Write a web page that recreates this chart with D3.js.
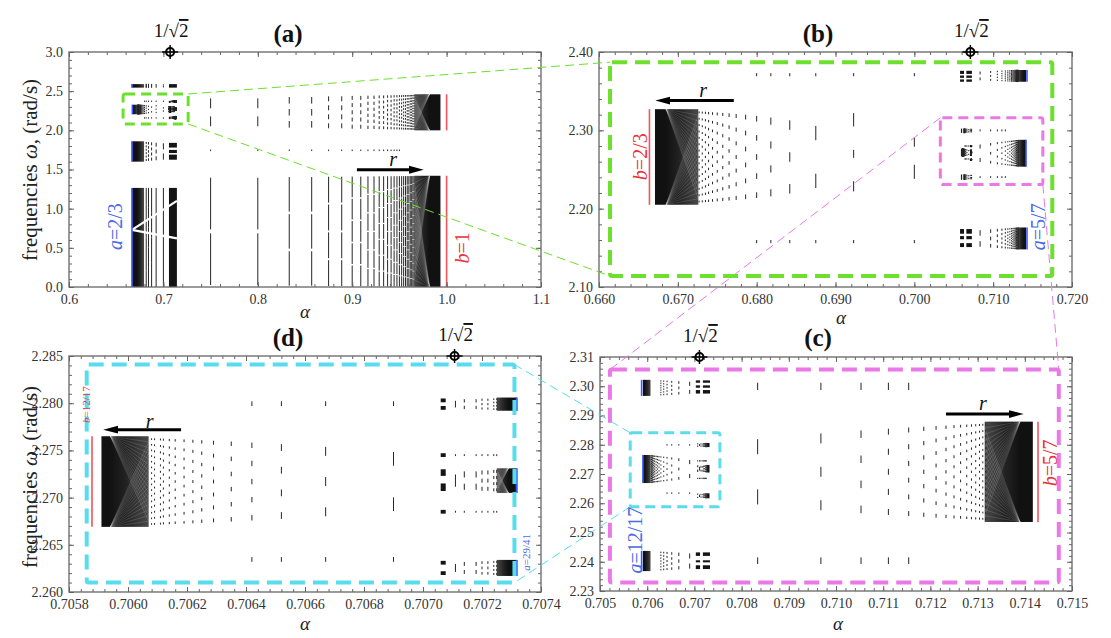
<!DOCTYPE html>
<html>
<head>
<meta charset="utf-8">
<script src="https://d3js.org/d3.v7.min.js"></script>
<style>
  body { margin: 0; background: #fff; }
  svg text { font-family: "Liberation Serif", "DejaVu Serif", serif; }
</style>
</head>
<body>
<div id="vis"></div>
<script>
// ---------------- tick labels ----------------
const A_X_TICKS = ["0.6", "0.7", "0.8", "0.9", "1.0", "1.1"];
const A_Y_TICKS = ["0.0", "0.5", "1.0", "1.5", "2.0", "2.5", "3.0"];
const B_X_TICKS = ["0.660", "0.670", "0.680", "0.690", "0.700", "0.710", "0.720"];
const B_Y_TICKS = ["2.10", "2.20", "2.30", "2.40"];
const C_X_TICKS = ["0.705", "0.706", "0.707", "0.708", "0.709", "0.710", "0.711", "0.712", "0.713", "0.714", "0.715"];
const C_Y_TICKS = ["2.23", "2.24", "2.25", "2.26", "2.27", "2.28", "2.29", "2.30", "2.31"];
const D_X_TICKS = ["0.7058", "0.7060", "0.7062", "0.7064", "0.7066", "0.7068", "0.7070", "0.7072", "0.7074"];
const D_Y_TICKS = ["2.260", "2.265", "2.270", "2.275", "2.280", "2.285"];

// ---------------- panel (a) spectrum ----------------
const A_RIGHT_COLS = [0.75, 0.8, 0.8333, 0.8571, 0.875, 0.8889, 0.9, 0.9091, 0.9167, 0.9231, 0.9286, 0.9333, 0.9375,
  0.9412, 0.9444, 0.9474, 0.95, 0.9524, 0.9545, 0.9565, 0.9583, 0.96, 0.9615, 0.963, 0.9643, 0.9655];
const A_RIGHT_SEGS = [2, 2, 3, 3, 4, 4, 5, 5, 6, 6, 7, 7, 8, 8, 9, 9, 10, 10, 11, 11, 12, 12, 13, 13, 14, 14];
const A_RIGHT_BANDS = [[0, 1.42], [2.0, 2.46]];
const A_RIGHT_FILL = [0.93, 0.55];
const A_RIGHT_DOT = [1.735, 1.755];
const A_RIGHT_DENSE = [0.9658, 0.982, 0.9935];
const A_LIMIT_B = 1.0;
const A_LEFT_COLS = [0.7000, 0.6923, 0.6875, 0.6842, 0.6818];
const A_LEFT_SEGS = [2, 3, 4, 5, 6];
const A_LEFT_BANDS = [[0, 1.265], [1.60, 1.86], [2.545, 2.59]];
const A_LEFT_FILL = [1.0, 0.6, 0.8];
const A_LEFT_DENSE = [0.6795, 0.672, 0.6669];
const A_LIMIT_A = 0.6667;
const A_CHUNK_SPAN = [0.7059, 0.7143];
const A_CHUNK_ROWS = [[0, 1.265], [1.625, 1.69], [1.71, 1.75], [1.78, 1.84], [2.545, 2.59]];
const A_GAPS = [[0.6667, 0.73, 0.7143, 1.10], [0.6667, 0.73, 0.7143, 0.62]];

// ---------------- panel (b) spectrum ----------------
const B_LEFT_COLS = [0.6875, 0.6842, 0.6818, 0.6800, 0.6786, 0.6774, 0.6765, 0.6757, 0.6750, 0.6744, 0.6739, 0.6735, 0.6731, 0.6727];
const B_LEFT_SEGS = [2, 3, 4, 5, 6, 7, 8, 9, 10, 11, 12, 13, 14, 15];
const B_LEFT_BAND = [2.205, 2.327];
const B_LEFT_DENSE = [0.6726, 0.6685, 0.6671];
const B_LIMIT_B = 0.6664;
const B_DOTS = [[2.369, 2.373], [2.156, 2.160]];
const B_DOT_COLS = [0.7000, 0.6923, 0.6875, 0.6842, 0.6818, 0.6800];
const B_MID_COLS = [0.6923, 0.7000];
const B_MID_SEGMENTS = [[[2.305, 2.322], [2.265, 2.275], [2.222, 2.235]], [[2.279, 2.291], [2.238, 2.256]]];
const B_SIDE_BANDS = [[2.362, 2.377], [2.148, 2.176]];
const B_SIDE_CHUNK_SPANS = [[0.7058, 0.7063], [0.7066, 0.7073]];
const B_SIDE_CHUNK_ROWS = [[2.372, 2.376], [2.367, 2.370], [2.362, 2.365], [2.168, 2.174], [2.161, 2.165], [2.151, 2.156]];
const B_LIMIT_A = 0.71429;

// ---------------- panel (c) spectrum ----------------
const C_COLS = [0.70834, 0.70968, 0.71053, 0.71111, 0.71154, 0.71186, 0.71212, 0.71233, 0.71250, 0.71264, 0.71277,
  0.71287, 0.71296, 0.71304, 0.71311, 0.71317];
const C_SEGS = [2, 3, 4, 5, 6, 7, 8, 9, 10, 11, 12, 13, 14, 15, 16, 17];
const C_BAND = [2.2536, 2.2879];
const C_DENSE = [0.71315, 0.7139, 0.71417];
const C_DOTS = [[2.2987, 2.3012], [2.2392, 2.2415]];
const C_DOT_COLS = [0.70834, 0.70968, 0.71053, 0.71111, 0.71154];
const C_LIMIT_B = 0.71428;
const C_SIDE_BANDS = [[2.2967, 2.3022], [2.2368, 2.2437]];
const C_SIDE_CHUNK_SPANS = [[0.70703, 0.70712], [0.70718, 0.70733]];
const C_SIDE_CHUNK_ROWS = [[2.3012, 2.3020], [2.2995, 2.3003], [2.2975, 2.2987], [2.2420, 2.2432], [2.2398, 2.2405], [2.2375, 2.2388]];
const C_LIMIT_A = 0.705882;

// ---------------- panel (d) spectrum ----------------
const D_COLS = [0.70690, 0.70667, 0.70652, 0.70642, 0.70635, 0.70629, 0.70625, 0.70622, 0.70619, 0.70616, 0.70614,
  0.70612, 0.70611, 0.70609, 0.70608];
const D_SEGS = [2, 3, 4, 5, 6, 7, 8, 9, 10, 11, 12, 13, 14, 15, 16];
const D_BAND = [2.2669, 2.2765];
const D_DENSE = [0.70607, 0.70594, 0.70591];
const D_DOTS = [[2.2797, 2.2802], [2.2632, 2.2637]];
const D_DOT_COLS = [0.70690, 0.70667, 0.70652, 0.70642];
const D_LIMIT_B = 0.705878;
const D_R_COLS = [0.70711, 0.70714, 0.70718, 0.70720, 0.70722, 0.70724, 0.70725];
const D_R_SEGS = [1, 2, 2, 3, 3, 4, 4];
const D_R_BANDS = [[2.2792, 2.2806], [2.2705, 2.2731], [2.2617, 2.2634]];
const D_R_DENSE = [0.70725, 0.70729, 0.70732];
const D_R_DOT_ROWS = [[2.2744, 2.2746], [2.2684, 2.2686]];
const D_R_CHUNK_SPAN = [0.70706, 0.707077];
const D_R_CHUNK_ROWS = [[2.2801, 2.2805], [2.2793, 2.2797], [2.2743, 2.2747], [2.2723, 2.2730], [2.2707, 2.2715],
  [2.2683, 2.2687], [2.2629, 2.2633], [2.2618, 2.2622]];
const D_LIMIT_A = 0.707317;

// zoom boxes [alpha0, alpha1, w0, w1]
const GREEN_A = [0.6573, 0.7262, 2.081, 2.464];
const GREEN_B = [0.6614, 0.7175, 2.114, 2.387];
const PINK_B = [0.7033, 0.7163, 2.231, 2.316];
const PINK_C = [0.70521, 0.71472, 2.2329, 2.3057];
const CYAN_C = [0.70564, 0.70754, 2.2588, 2.2841];
const CYAN_D = [0.70586, 0.70731, 2.2610, 2.2841];

const INV_SQRT2 = 0.707107;

// ---------------- layout ----------------
const RED = "#f0555a", BLUE = "#3a56ff", RED_T = "#e8333a", BLUE_T = "#4a6ae6";
const GREEN = "#6ce02c", PINK = "#ea78e6", CYAN = "#58dcee";

const PANELS = {
  a: { left: 69, right: 541, top: 52, bottom: 287, xd: [0.6, 1.1], yd: [0, 3.0], xm: 0.02, ym: 0.1 },
  b: { left: 599, right: 1072, top: 52, bottom: 287, xd: [0.66, 0.72], yd: [2.1, 2.4], xm: 0.002, ym: 0.02 },
  d: { left: 69, right: 541, top: 356, bottom: 592, xd: [0.7058, 0.7074], yd: [2.26, 2.285], xm: 0.00004, ym: 0.001 },
  c: { left: 600, right: 1072, top: 357, bottom: 591, xd: [0.705, 0.715], yd: [2.23, 2.31], xm: 0.0002, ym: 0.002 }
};

const svg = d3.select("#vis").append("svg").attr("width", 1111).attr("height", 638);
const defs = svg.append("defs");
defs.append("marker").attr("id", "head").attr("markerUnits", "userSpaceOnUse")
  .attr("markerWidth", 16).attr("markerHeight", 10).attr("refX", 2).attr("refY", 5).attr("orient", "auto")
  .append("path").attr("d", "M0,1 L15,5 L0,9 Z").attr("fill", "#000");

function setup(key) {
  const c = PANELS[key];
  const x = d3.scaleLinear().domain(c.xd).range([c.left, c.right]);
  const y = d3.scaleLinear().domain(c.yd).range([c.bottom, c.top]);
  defs.append("clipPath").attr("id", "clip-" + key).append("rect")
    .attr("x", c.left).attr("y", c.top).attr("width", c.right - c.left).attr("height", c.bottom - c.top);
  const g = svg.append("g").attr("clip-path", "url(#clip-" + key + ")");
  return { x, y, g, c, key };
}

// ---------------- drawing helpers ----------------
function vsegs(p, list, color, w) {
  const px = list.map(([a, y0, y1]) => {
    let top = p.y(y1), bot = p.y(y0);
    if (bot - top < 1.3) { const m = (top + bot) / 2; top = m - 0.65; bot = m + 0.65; }
    return [p.x(a), top, bot];
  });
  p.g.append("g").selectAll("line").data(px).join("line")
    .attr("x1", d => d[0]).attr("x2", d => d[0]).attr("y1", d => d[1]).attr("y2", d => d[2])
    .attr("stroke", color || "#262626").attr("stroke-width", w || 1);
}

function fan(p, cols, segs, band, fill) {
  const list = [];
  const h = band[1] - band[0];
  cols.forEach((a, i) => {
    const n = segs[i] || 1;
    for (let j = 0; j < n; j++) {
      const c = band[0] + (j + 0.5) * h / n, half = h * fill / n / 2;
      list.push([a, c - half, c + half]);
    }
  });
  vsegs(p, list);
}

function dotRows(p, cols, rows) {
  const list = [];
  cols.forEach(a => rows.forEach(r => list.push([a, r[0], r[1]])));
  vsegs(p, list);
}

let gradId = 0;
function dense(p, spec, band) {
  const [far, solid, lim] = spec;
  const xf = p.x(far), xs = p.x(solid), xl = p.x(lim);
  const id = "grad" + (gradId++);
  const gr = defs.append("linearGradient").attr("id", id).attr("gradientUnits", "userSpaceOnUse")
    .attr("x1", xf).attr("x2", xl).attr("y1", 0).attr("y2", 0);
  const sf = Math.min(1, Math.abs(xs - xf) / Math.max(Math.abs(xl - xf), 0.01));
  gr.append("stop").attr("offset", 0).attr("stop-color", "#4a4a4a");
  gr.append("stop").attr("offset", sf * 0.6).attr("stop-color", "#222");
  gr.append("stop").attr("offset", sf).attr("stop-color", "#111");
  gr.append("stop").attr("offset", 1).attr("stop-color", "#111");
  const y0 = p.y(band[1]), y1 = p.y(band[0]);
  p.g.append("rect").attr("x", Math.min(xf, xl)).attr("y", y0)
    .attr("width", Math.max(Math.abs(xl - xf), 1)).attr("height", Math.max(y1 - y0, 1))
    .attr("fill", "url(#" + id + ")");
  if (Math.abs(xs - xf) > 10 && y1 - y0 > 20) {
    const k = 16, lines = [];
    for (let i = 1; i < k; i++) {
      const t = i / k;
      lines.push([xs, y0, xf, y0 + t * (y1 - y0)]);
      lines.push([xs, y1, xf, y1 - t * (y1 - y0)]);
    }
    p.g.append("g").selectAll("line").data(lines).join("line")
      .attr("x1", d => d[0]).attr("y1", d => d[1]).attr("x2", d => d[2]).attr("y2", d => d[3])
      .attr("stroke", "#fff").attr("stroke-width", 0.5).attr("opacity", 0.28);
  }
}

function chunks(p, spans, rows) {
  const rects = [];
  spans.forEach(s => rows.forEach(r => rects.push([s[0], s[1], r[0], r[1]])));
  p.g.append("g").selectAll("rect").data(rects).join("rect")
    .attr("x", d => p.x(d[0])).attr("width", d => Math.max(p.x(d[1]) - p.x(d[0]), 1))
    .attr("y", d => p.y(d[3])).attr("height", d => Math.max(p.y(d[2]) - p.y(d[3]), 1))
    .attr("fill", "#141414");
}

function limit(p, a, band, color) {
  vsegs(p, [[a, band[0], band[1]]], color, 1.6);
}

// ---------------- nested spectra ----------------
function drawD(p, depth) {
  dense(p, D_DENSE, D_BAND);
  fan(p, D_COLS, D_SEGS, D_BAND, 0.3);
  dotRows(p, D_DOT_COLS, D_DOTS);
  D_R_BANDS.forEach(b => { dense(p, D_R_DENSE, b); fan(p, D_R_COLS, D_R_SEGS, b, 0.5); });
  dotRows(p, D_R_COLS, D_R_DOT_ROWS);
  chunks(p, [D_R_CHUNK_SPAN], D_R_CHUNK_ROWS);
  if (depth === 0) {
    limit(p, D_LIMIT_B, D_BAND, RED);
    D_R_BANDS.forEach(b => limit(p, D_LIMIT_A, b, BLUE));
  } else if (depth === 1) {
    limit(p, D_DENSE[2], D_BAND, BLUE);
  }
}

function drawC(p, depth) {
  dense(p, C_DENSE, C_BAND);
  fan(p, C_COLS, C_SEGS, C_BAND, 0.3);
  dotRows(p, C_DOT_COLS, C_DOTS);
  drawD(p, depth + 1);
  C_SIDE_BANDS.forEach(b => {
    dense(p, D_DENSE, b);
    fan(p, D_COLS.slice(0, 6), D_SEGS, b, 0.5);
    if (depth === 0) limit(p, C_LIMIT_A, b, BLUE);
  });
  chunks(p, C_SIDE_CHUNK_SPANS, C_SIDE_CHUNK_ROWS);
  if (depth === 0) limit(p, C_LIMIT_B, C_BAND, RED);
  else if (depth === 1) limit(p, C_DENSE[2], C_BAND, BLUE);
}

function drawB(p, depth) {
  dense(p, B_LEFT_DENSE, B_LEFT_BAND);
  fan(p, B_LEFT_COLS, B_LEFT_SEGS, B_LEFT_BAND, 0.3);
  const mid = [];
  B_MID_COLS.forEach((a, i) => B_MID_SEGMENTS[i].forEach(s => mid.push([a, s[0], s[1]])));
  vsegs(p, mid);
  dotRows(p, B_DOT_COLS, B_DOTS);
  drawC(p, depth + 1);
  B_SIDE_BANDS.forEach(b => {
    dense(p, C_DENSE, b);
    fan(p, C_COLS, C_SEGS, b, 0.5);
    if (depth === 0) limit(p, B_LIMIT_A, b, BLUE);
  });
  chunks(p, B_SIDE_CHUNK_SPANS, B_SIDE_CHUNK_ROWS);
  if (depth === 0) limit(p, B_LIMIT_B, B_LEFT_BAND, RED);
  else if (depth === 1) limit(p, B_LEFT_DENSE[2], B_LEFT_BAND, BLUE);
}

function drawA(p) {
  A_RIGHT_BANDS.forEach((b, k) => {
    dense(p, A_RIGHT_DENSE, b);
    fan(p, A_RIGHT_COLS, A_RIGHT_SEGS, b, A_RIGHT_FILL[k]);
    limit(p, A_LIMIT_B, b, RED);
  });
  dotRows(p, A_RIGHT_COLS.slice(0, 17), [A_RIGHT_DOT]);
  A_LEFT_BANDS.forEach((b, k) => {
    dense(p, A_LEFT_DENSE, b);
    fan(p, A_LEFT_COLS, A_LEFT_SEGS, b, A_LEFT_FILL[k]);
  });
  chunks(p, [A_CHUNK_SPAN], A_CHUNK_ROWS);
  drawB(p, 1);
  p.g.append("g").selectAll("line").data(A_GAPS).join("line")
    .attr("x1", d => p.x(d[0])).attr("y1", d => p.y(d[1])).attr("x2", d => p.x(d[2])).attr("y2", d => p.y(d[3]))
    .attr("stroke", "#fff").attr("stroke-width", 2.2);
  A_LEFT_BANDS.forEach(b => limit(p, A_LIMIT_A, b, BLUE));
}

// ---------------- axes ----------------
function minorTicks(dom, step) {
  const n = Math.round((dom[1] - dom[0]) / step);
  return d3.range(n + 1).map(i => dom[0] + i * step);
}

function drawAxes(p, xLabels, yLabels) {
  const c = p.c, ax = svg.append("g");
  const xv = xLabels.map(Number), yv = yLabels.map(Number);
  const xmin = minorTicks(c.xd, c.xm), ymin = minorTicks(c.yd, c.ym);
  const put = (axis, tx, ty) => ax.append("g").attr("transform", `translate(${tx},${ty})`).call(axis);
  put(d3.axisBottom(p.x).tickValues(xv).tickFormat((d, i) => xLabels[i]).tickSize(-5).tickPadding(7), 0, c.bottom);
  put(d3.axisBottom(p.x).tickValues(xmin).tickFormat("").tickSize(-3), 0, c.bottom);
  put(d3.axisTop(p.x).tickValues(xv).tickFormat("").tickSize(-5), 0, c.top);
  put(d3.axisTop(p.x).tickValues(xmin).tickFormat("").tickSize(-3), 0, c.top);
  put(d3.axisLeft(p.y).tickValues(yv).tickFormat((d, i) => yLabels[i]).tickSize(-5).tickPadding(6), c.left, 0);
  put(d3.axisLeft(p.y).tickValues(ymin).tickFormat("").tickSize(-3), c.left, 0);
  put(d3.axisRight(p.y).tickValues(yv).tickFormat("").tickSize(-5), c.right, 0);
  put(d3.axisRight(p.y).tickValues(ymin).tickFormat("").tickSize(-3), c.right, 0);
  ax.selectAll(".domain").remove();
  ax.selectAll("line").attr("stroke", "#666").attr("stroke-width", 1);
  ax.selectAll("text").attr("font-size", "14px").attr("fill", "#333")
    .attr("font-family", "'Liberation Serif', 'DejaVu Serif', serif");
  svg.append("rect").attr("x", c.left).attr("y", c.top).attr("width", c.right - c.left).attr("height", c.bottom - c.top)
    .attr("fill", "none").attr("stroke", "#666").attr("stroke-width", 1.3);
}

// ---------------- build ----------------
const pa = setup("a"), pb = setup("b"), pc = setup("c"), pd = setup("d");
drawA(pa);
drawB(pb, 0);
drawC(pc, 0);
drawD(pd, 0);
drawAxes(pa, A_X_TICKS, A_Y_TICKS);
drawAxes(pb, B_X_TICKS, B_Y_TICKS);
drawAxes(pc, C_X_TICKS, C_Y_TICKS);
drawAxes(pd, D_X_TICKS, D_Y_TICKS);

// zoom boxes
const over = svg.append("g");
function box(p, b, color, w, dash) {
  over.append("rect").attr("x", p.x(b[0])).attr("y", p.y(b[3]))
    .attr("width", p.x(b[1]) - p.x(b[0])).attr("height", p.y(b[2]) - p.y(b[3]))
    .attr("rx", 2).attr("fill", "none").attr("stroke", color).attr("stroke-width", w)
    .attr("stroke-dasharray", dash);
}
function link(p1, pt1, p2, pt2, color) {
  over.append("line").attr("x1", p1.x(pt1[0])).attr("y1", p1.y(pt1[1]))
    .attr("x2", p2.x(pt2[0])).attr("y2", p2.y(pt2[1]))
    .attr("stroke", color).attr("stroke-width", 1).attr("stroke-dasharray", "9,5");
}
link(pa, [GREEN_A[1], GREEN_A[3]], pb, [GREEN_B[0], GREEN_B[3]], GREEN);
link(pa, [GREEN_A[1], GREEN_A[2]], pb, [GREEN_B[0], GREEN_B[2]], GREEN);
link(pb, [PINK_B[0], PINK_B[3]], pc, [PINK_C[0], PINK_C[3]], PINK);
link(pb, [PINK_B[1], PINK_B[2]], pc, [PINK_C[1], PINK_C[3]], PINK);
link(pc, [CYAN_C[0], CYAN_C[3]], pd, [CYAN_D[1], CYAN_D[3]], CYAN);
link(pc, [CYAN_C[0], CYAN_C[2]], pd, [CYAN_D[1], CYAN_D[2]], CYAN);
box(pa, GREEN_A, GREEN, 3, "10,6");
box(pb, GREEN_B, GREEN, 4, "15,8");
box(pb, PINK_B, PINK, 3, "10,6");
box(pc, PINK_C, PINK, 4, "15,8");
box(pc, CYAN_C, CYAN, 3, "10,6");
box(pd, CYAN_D, CYAN, 4, "15,8");

// 1/sqrt(2) markers
[pa, pb, pc, pd].forEach(p => {
  const cx = p.x(INV_SQRT2), cy = p.c.top;
  over.append("line").attr("x1", cx - 8).attr("x2", cx + 8).attr("y1", cy).attr("y2", cy).attr("stroke", "#000").attr("stroke-width", 1.5);
  over.append("line").attr("x1", cx).attr("x2", cx).attr("y1", cy - 7).attr("y2", cy + 7).attr("stroke", "#000").attr("stroke-width", 1.5);
  over.append("circle").attr("cx", cx).attr("cy", cy).attr("r", 4).attr("fill", "none").attr("stroke", "#000").attr("stroke-width", 2);
  const t = over.append("text").attr("x", cx + 1).attr("y", cy - 15).attr("text-anchor", "middle")
    .attr("font-size", "19px").attr("fill", "#111");
  t.append("tspan").text("1/√");
  t.append("tspan").text("2").style("text-decoration", "overline");
});

// panel labels
[["(a)", 288, 42], ["(b)", 818, 42], ["(d)", 288, 346], ["(c)", 818, 346]].forEach(([s, x, y]) => {
  over.append("text").attr("x", x).attr("y", y).attr("text-anchor", "middle")
    .attr("font-size", "25px").attr("font-weight", "bold").attr("fill", "#111").text(s);
});

// axis titles
[[30, 170], [30, 477]].forEach(([x, y]) => {
  const t = over.append("text").attr("transform", `translate(${x},${y}) rotate(-90)`).attr("text-anchor", "middle")
    .attr("dy", "0.35em").attr("font-size", "21px").attr("fill", "#222");
  t.append("tspan").text("frequencies ");
  t.append("tspan").attr("font-style", "italic").text("ω");
  t.append("tspan").text(", (rad/s)");
});
[[305, 318], [841, 324], [305, 630], [838, 630]].forEach(([x, y]) => {
  over.append("text").attr("x", x).attr("y", y).attr("text-anchor", "middle")
    .attr("font-size", "19px").attr("font-style", "italic").attr("fill", "#222").text("α");
});

// limit annotations
const ANNOTS = [
  [pa, 0.6484, 0.77, "a", "2/3", BLUE_T, 20],
  [pa, 1.016, 0.50, "b", "1", RED_T, 20],
  [pb, 0.66517, 2.2663, "b", "2/3", RED_T, 20],
  [pb, 0.71571, 2.1769, "a", "5/7", BLUE_T, 20],
  [pc, 0.70574, 2.2474, "a", "12/17", BLUE_T, 20],
  [pc, 0.71454, 2.2738, "b", "5/7", RED_T, 20],
  [pd, 0.705858, 2.27985, "b", "12/17", RED_T, 11],
  [pd, 0.70735, 2.2642, "a", "29/41", BLUE_T, 11]
];
ANNOTS.forEach(([p, a, w, v, val, col, size]) => {
  const t = over.append("text").attr("transform", `translate(${p.x(a)},${p.y(w)}) rotate(-90)`)
    .attr("text-anchor", "middle").attr("dy", "0.35em").attr("font-size", size + "px").attr("fill", col);
  t.append("tspan").attr("font-style", "italic").text(v);
  t.append("tspan").text("=" + val);
});

// r arrows
const ARROWS = [
  [pa, 0.905, 0.962, 1.497, 0.9435, 1.634],
  [pb, 0.6771, 0.6688, 2.338, 0.6732, 2.352],
  [pd, 0.70618, 0.70596, 2.2772, 0.706073, 2.27816],
  [pc, 0.71233, 0.71370, 2.2905, 0.71311, 2.29444]
];
ARROWS.forEach(([p, a0, a1, w, ra, rw]) => {
  over.append("line").attr("x1", p.x(a0)).attr("x2", p.x(a1)).attr("y1", p.y(w)).attr("y2", p.y(w))
    .attr("stroke", "#000").attr("stroke-width", 3).attr("marker-end", "url(#head)");
  over.append("text").attr("x", p.x(ra)).attr("y", p.y(rw)).attr("dy", "0.35em").attr("text-anchor", "middle")
    .attr("font-size", "20px").attr("font-style", "italic").attr("fill", "#111").text("r");
});
</script>
</body>
</html>
